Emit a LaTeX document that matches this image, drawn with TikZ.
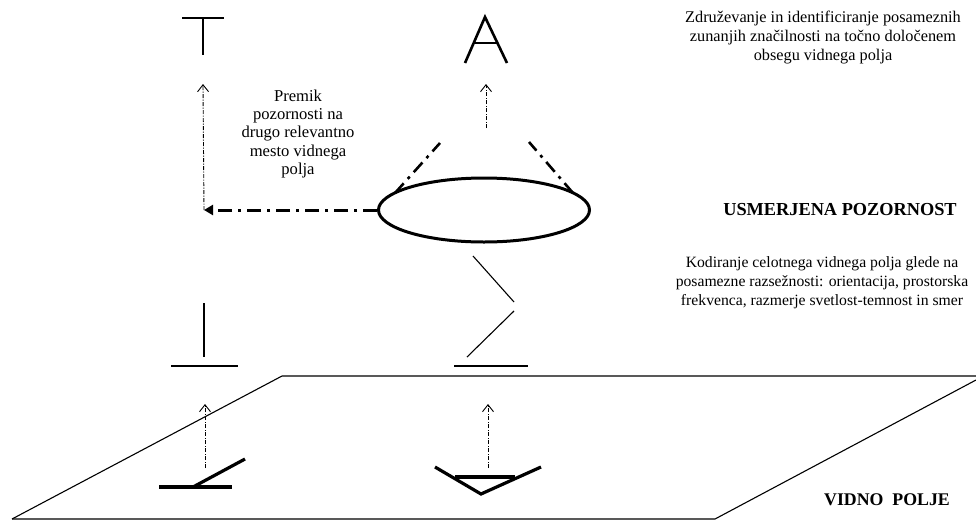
\documentclass[tikz,border=0pt]{standalone}
\usepackage{fontspec}
\setmainfont{Liberation Serif}
\usetikzlibrary{arrows.meta,shapes.geometric}
\begin{document}
\begin{tikzpicture}[x=1pt,y=-1pt,
  glyph/.style={line width=2.6pt},
  thinline/.style={line width=1.1pt},
  featline/.style={line width=3.2pt},
  uparrow/.style={line width=0.9pt, dash pattern=on 4pt off 1.5pt on 1pt off 1.5pt,
    -{Straight Barb[length=7pt,width=11pt,line width=0.9pt]}},
  shiftarrow/.style={line width=3pt, dash pattern=on 14pt off 6pt on 3pt off 6pt,
    -{Triangle[length=9pt,width=10pt]}},
  conedash/.style={line width=2.6pt, dash pattern=on 13pt off 6pt on 3pt off 6pt},
  caption/.style={align=center, font=\fontsize{16.3}{19}\selectfont},
  heading/.style={font=\fontsize{18.3}{20}\selectfont\bfseries}
]
\useasboundingbox (0,0) rectangle (976,520);

% visual field plane
\draw[thinline] (12,519) -- (282,376) -- (976,376);
\draw[thinline] (12,519) -- (715,519) -- (976,380);

% top-level letters
\coordinate (Ttop) at (203,18);
\draw[glyph] (182,18) -- (224,18) (Ttop) -- (203,55);
\coordinate (Atop) at (485,17);
\draw[glyph, line join=miter] (465,63) -- (Atop) -- (507,63);
\draw[glyph] (473,43) -- (498,43);

% focused attention
\node[draw, ellipse, line width=3pt, minimum width=211pt, minimum height=64pt, inner sep=0pt] (focus) at (484,210) {};
\coordinate (shiftEnd) at (204,210);
\coordinate (tUpTop) at (203,84);
\coordinate (aUpTop) at (486,84);
\coordinate (aUpBot) at (486,128);
\coordinate (coneL) at (440,143);
\coordinate (coneR) at (529,142);
\draw[shiftarrow] (focus.west) -- (shiftEnd);
\draw[uparrow] (shiftEnd) -- (tUpTop);
\draw[uparrow] (aUpBot) -- (aUpTop);
\draw[conedash] (395,193) -- (coneL);
\draw[conedash] (573,193) -- (coneR);

% feature maps
\draw[thinline] (204,303) -- (204,357);
\draw[thinline] (171,366) -- (238,366);
\draw[thinline] (473,256) -- (514,302);
\draw[thinline] (514,311) -- (467,357);
\draw[thinline] (454,366) -- (528,366);

% stimuli in the visual field
\coordinate (lStim) at (205,468);
\coordinate (lUpTop) at (205,404);
\draw[uparrow] (lStim) -- (lUpTop);
\draw[featline] (159,487) -- (232,487);
\draw[featline] (193,487) -- (245,459);
\coordinate (mStim) at (488,468);
\coordinate (mUpTop) at (488,404);
\draw[uparrow] (mStim) -- (mUpTop);
\draw[featline, line join=miter] (435,467) -- (481,494) -- (541,467);
\draw[featline] (455,477) -- (515,477);

% labels
\node[caption] (topText) at (823,38) {Združevanje in identificiranje posameznih\\zunanjih značilnosti na točno določenem\\obsegu vidnega polja};
\node[caption, font=\fontsize{16.6}{18.4}\selectfont] (shiftText) at (298,134) {Premik\\pozornosti na\\drugo relevantno\\mesto vidnega\\polja};
\node[heading] (attnText) at (840,210) {USMERJENA POZORNOST};
\node[caption, font=\fontsize{15.7}{19.2}\selectfont] (codeText) at (822,283) {Kodiranje celotnega vidnega polja glede na\\posamezne razsežnosti: orientacija, prostorska\\frekvenca, razmerje svetlost-temnost in smer};
\node[heading, font=\fontsize{17.8}{20}\selectfont\bfseries] (fieldText) at (887,500) {VIDNO\ \ POLJE};
\end{tikzpicture}
\end{document}
